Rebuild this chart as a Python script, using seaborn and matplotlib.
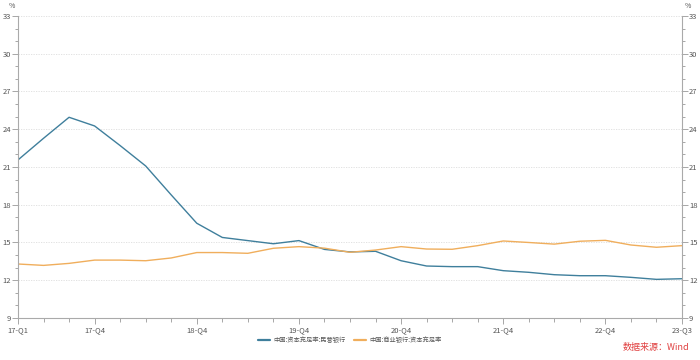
import numpy as np
import pandas as pd
import matplotlib
matplotlib.use("Agg")
import matplotlib.pyplot as plt
import seaborn as sns
from matplotlib.ticker import MultipleLocator, FixedLocator

quarters = [f"{y}-Q{q}" for y in range(17, 24) for q in range(1, 5)][:27]
tick_labels = ["17-Q1", "17-Q4", "18-Q4", "19-Q4", "20-Q4", "21-Q4", "22-Q4", "23-Q3"]

private_bank = [21.56, 23.28, 24.95, 24.26, 22.70, 21.08, 18.78, 16.53, 15.40,
                15.15, 14.90, 15.15, 14.45, 14.25, 14.30, 13.55, 13.13, 13.08,
                13.08, 12.76, 12.63, 12.44, 12.36, 12.36, 12.23, 12.07, 12.12]
commercial_bank = [13.29, 13.18, 13.34, 13.60, 13.60, 13.55, 13.77, 14.20, 14.20,
                   14.14, 14.54, 14.67, 14.55, 14.22, 14.40, 14.67, 14.48, 14.46,
                   14.75, 15.12, 15.00, 14.87, 15.10, 15.17, 14.80, 14.62, 14.75]
series_names = ["中国:资本充足率:民营银行", "中国:商业银行:资本充足率"]
colors = ["#3f7f9c", "#f0ae5c"]

df = pd.DataFrame({
    "idx": list(range(len(quarters))) * 2,
    "quarter": quarters * 2,
    "value": private_bank + commercial_bank,
    "series": [series_names[0]] * len(quarters) + [series_names[1]] * len(quarters),
})

sns.set_theme(style="white")
plt.rcParams["font.family"] = ["Noto Sans CJK SC", "DejaVu Sans"]

fig = plt.figure(figsize=(7, 3.6), dpi=100)
ax = fig.add_axes([0.0257, 0.1167, 0.9486, 0.8389])

sns.lineplot(data=df, x="idx", y="value", hue="series", palette=colors,
             hue_order=series_names, linewidth=1.0, ax=ax, legend=True)

ax.set_xlim(0, len(quarters) - 1)
ax.set_ylim(9, 33)
ax.yaxis.set_major_locator(MultipleLocator(3))
ax.yaxis.set_minor_locator(MultipleLocator(1))
major_x = [quarters.index(t) for t in tick_labels]
ax.xaxis.set_major_locator(FixedLocator(major_x))
ax.xaxis.set_minor_locator(FixedLocator(list(range(len(quarters)))))
ax.set_xticklabels(tick_labels)

ax.grid(axis="y", which="major", color="#dddddd", linestyle=(0, (1.5, 1.5)), linewidth=0.6)
ax.set_axisbelow(True)

for s in ["left", "right", "bottom"]:
    ax.spines[s].set_color("#aaaaaa")
    ax.spines[s].set_linewidth(0.8)
ax.spines["top"].set_visible(False)

ax.tick_params(axis="both", which="both", colors="#999999", labelcolor="#555555",
               labelsize=5.5, width=0.6)
ax.tick_params(axis="y", which="both", left=True, right=True, labelleft=True,
               labelright=True, direction="out")
ax.tick_params(axis="y", which="major", length=4, pad=1)
ax.tick_params(axis="y", which="minor", length=2.5)
ax.tick_params(axis="x", which="major", length=4, pad=2, bottom=True)
ax.tick_params(axis="x", which="minor", length=3, bottom=True)
ax.set_xlabel("")
ax.set_ylabel("")

ax.text(-0.004, 1.02, "%", transform=ax.transAxes, fontsize=5, color="#555555", ha="right", va="bottom")
ax.text(1.004, 1.02, "%", transform=ax.transAxes, fontsize=5, color="#555555", ha="left", va="bottom")

handles, labels = ax.get_legend_handles_labels()
for h in handles:
    h.set_linewidth(1.6)
ax.legend(handles, labels, loc="center", bbox_to_anchor=(0.5, -0.073), ncol=2,
          frameon=False, fontsize=4.5, handlelength=1.8, handletextpad=0.6,
          columnspacing=1.4, labelcolor="#555555")

fig.text(0.985, 0.022, "数据来源：Wind", color="#e04040", fontsize=6.5, ha="right", va="bottom")

fig.savefig("out.png", dpi=100, facecolor="white")
